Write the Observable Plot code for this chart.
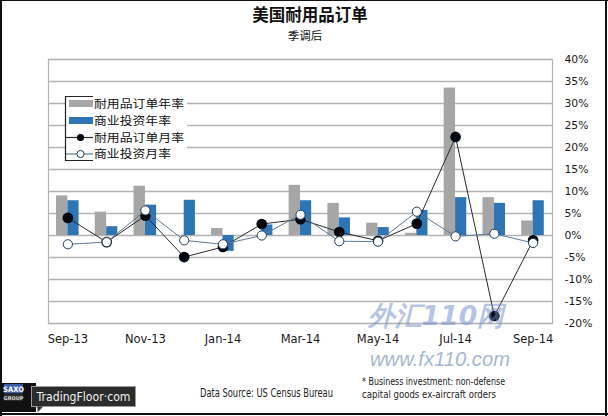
<!DOCTYPE html>
<html>
<head>
<meta charset="utf-8">
<script src="https://cdn.jsdelivr.net/npm/d3@7"></script>
<script src="https://cdn.jsdelivr.net/npm/@observablehq/plot@0.6"></script>
<style>
  html, body { margin: 0; padding: 0; background: #fff; }
  #frame { position: relative; width: 608px; height: 416px; overflow: hidden; background: #fff; font-family: "DejaVu Sans", sans-serif; }
  .abs { position: absolute; }
  #chart { top: 45px; left: 0; }
</style>
</head>
<body>
<div id="frame">
  <svg class="abs" id="back" style="left:0;top:0" width="608" height="416"></svg>
  <div class="abs" id="chart"></div>
  <svg class="abs" id="front" style="left:0;top:0" width="608" height="416"></svg>
  <div class="abs" style="left:0;top:0;width:2px;height:416px;background:#111"></div>
  <div class="abs" style="left:0;top:0;width:608px;height:1px;background:#111"></div>
  <div class="abs" style="left:605px;top:0;width:2px;height:416px;background:#111"></div>
  <div class="abs" style="left:0;top:413px;width:608px;height:2px;background:#111"></div>
</div>
<script>
// ---- data ----
const months = ["Sep-13","Oct-13","Nov-13","Dec-13","Jan-14","Feb-14","Mar-14","Apr-14","May-14","Jun-14","Jul-14","Aug-14","Sep-14"];
const durableYoY  = [9.0, 5.3, 11.2, 0.0, 1.6, 0.0, 11.4, 7.3, 2.8, 0.5, 33.5, 8.6, 3.3];
const businessYoY = [7.9, 2.0, 6.9, 8.0, -3.6, 2.4, 7.9, 4.0, 1.8, 5.7, 8.6, 7.3, 7.9];
const durableMoM  = [4.0, -1.5, 4.5, -4.9, -2.6, 2.6, 3.7, 0.8, -1.2, 2.7, 22.4, -18.3, -1.1];
const businessMoM = [-2.0, -1.5, 5.7, -1.1, -2.0, 0.0, 4.7, -1.3, -1.4, 5.4, -0.2, 0.4, -1.7];
const yTicks = [-20, -15, -10, -5, 0, 5, 10, 15, 20, 25, 30, 35, 40];
const xTickLabels = ["Sep-13","Nov-13","Jan-14","Mar-14","May-14","Jul-14","Sep-14"];
const seriesNames = ["耐用品订单年率","商业投资年率","耐用品订单月率","商业投资月率"];
const titleText = "美国耐用品订单";
const subtitleText = "季调后";
const sourceText = "Data Source:  US Census Bureau";
const noteLines = ["* Business investment: non-defense", "capital goods ex-aircraft orders"];

const rows = months.map((m, i) => ({
  month: m, durYoY: durableYoY[i], bizYoY: businessYoY[i], durMoM: durableMoM[i], bizMoM: businessMoM[i]
}));

const GRAY = "#a6a6a6", BLUE = "#2e75b6";
const ns = "http://www.w3.org/2000/svg";
function mk(parent, tag, attrs, text) {
  const e = document.createElementNS(ns, tag);
  for (const k in attrs) e.setAttribute(k, attrs[k]);
  if (text != null) e.textContent = text;
  parent.appendChild(e);
  return e;
}

// ---- title ----
const bk = document.getElementById("back");
mk(bk, "text", { x: 310, y: 21, "text-anchor": "middle", "font-size": 16.5, "font-weight": 700, "font-family": "Noto Sans CJK SC, sans-serif", fill: "#111" }, titleText);
mk(bk, "text", { x: 305, y: 39.5, "text-anchor": "middle", "font-size": 11.5, "font-family": "Noto Sans CJK SC, sans-serif", fill: "#111" }, subtitleText);

const chart = Plot.plot({
  width: 608,
  height: 310,
  marginLeft: 48,
  marginRight: 56,
  marginTop: 14,
  marginBottom: 32,
  style: { fontFamily: "DejaVu Sans, sans-serif", color: "#1a1a1a", background: "transparent", overflow: "visible" },
  x: { type: "band", domain: months, padding: 0, round: false, label: null },
  y: { domain: [-20, 40], label: null },
  marks: [
    Plot.gridY(yTicks, { stroke: "#b4b4b4", strokeOpacity: 1, strokeWidth: 1.5 }),
    Plot.frame({ stroke: "#b4b4b4", strokeWidth: 1.2 }),
    Plot.barY(rows, { x: "month", y: "durYoY", fill: GRAY, insetLeft: 8, insetRight: 19.4 }),
    Plot.barY(rows, { x: "month", y: "bizYoY", fill: BLUE, insetLeft: 19.4, insetRight: 8.2 }),
    Plot.line(rows, { x: "month", y: "durMoM", stroke: "#2a2a2a", strokeWidth: 1 }),
    Plot.dot(rows, { x: "month", y: "durMoM", r: 4.6, fill: "#05070f", stroke: "#05070f" }),
    Plot.line(rows, { x: "month", y: "bizMoM", stroke: "#5d7a96", strokeWidth: 1 }),
    Plot.dot(rows, { x: "month", y: "bizMoM", r: 4.6, fill: "#fff", stroke: "#1f3d60", strokeWidth: 1 }),
    Plot.axisX({ ticks: xTickLabels, tickSize: 0, tickPadding: 11, fontSize: 11.5, fill: "#1a1a1a", label: null }),
    Plot.axisY({ anchor: "right", ticks: yTicks, tickFormat: d => d + "%", tickSize: 0, tickPadding: 12, fontSize: 10.8, fill: "#1a1a1a", label: null })
  ]
});
document.getElementById("chart").appendChild(chart);

// ---- overlay: watermark, legend, footer ----
const fr = document.getElementById("front");
mk(fr, "text", { x: 368, y: 325, "font-size": 27, "font-weight": 700, "font-style": "italic", "font-family": "DejaVu Sans, sans-serif", fill: "#6f8bcc", "fill-opacity": 0.5, textLength: 136, lengthAdjust: "spacingAndGlyphs" }, "外汇110网");
mk(fr, "text", { x: 370, y: 366, "font-size": 20, "font-style": "italic", "font-family": "Liberation Sans, sans-serif", fill: "#8ea2c8", "fill-opacity": 0.8, textLength: 140, lengthAdjust: "spacingAndGlyphs" }, "www.fx110.com");

mk(fr, "rect", { x: 65, y: 96, width: 122, height: 65, fill: "#fff" });
mk(fr, "path", { d: "M93,96.5 H65.5 V160.5 H93", fill: "none", stroke: "#222", "stroke-width": 1.2 });
const rowY = [103.5, 120.5, 137.5, 154];
seriesNames.forEach((name, i) => {
  const y = rowY[i];
  if (i === 0) mk(fr, "rect", { x: 69, y: y - 3.5, width: 24, height: 7, fill: GRAY });
  if (i === 1) mk(fr, "rect", { x: 69, y: y - 3.5, width: 24, height: 7, fill: BLUE });
  if (i === 2) { mk(fr, "line", { x1: 66, x2: 93, y1: y, y2: y, stroke: "#2a2a2a", "stroke-width": 1.2 }); mk(fr, "circle", { cx: 80.5, cy: y, r: 3.6, fill: "#05070f" }); }
  if (i === 3) { mk(fr, "line", { x1: 66, x2: 93, y1: y, y2: y, stroke: "#5d7a96", "stroke-width": 1.2 }); mk(fr, "circle", { cx: 80.5, cy: y, r: 3.6, fill: "#fff", stroke: "#1f3d60" }); }
  mk(fr, "text", { x: 94, y: y, dy: "0.36em", "font-size": 11.3, "font-family": "Noto Sans CJK SC, sans-serif", fill: "#111", textLength: name.length === 7 ? 90 : 77, lengthAdjust: "spacingAndGlyphs" }, name);
});

// source + note
mk(fr, "text", { x: 200, y: 397, "font-size": 11.5, "font-family": "DejaVu Sans Condensed, DejaVu Sans, sans-serif", fill: "#222", textLength: 133, lengthAdjust: "spacingAndGlyphs" }, sourceText);
mk(fr, "text", { x: 362, y: 385, "font-size": 10.5, "font-family": "DejaVu Sans Condensed, DejaVu Sans, sans-serif", fill: "#222", textLength: 143, lengthAdjust: "spacingAndGlyphs" }, noteLines[0]);
mk(fr, "text", { x: 362, y: 398, "font-size": 10.5, "font-family": "DejaVu Sans Condensed, DejaVu Sans, sans-serif", fill: "#222", textLength: 134, lengthAdjust: "spacingAndGlyphs" }, noteLines[1]);

// logo
mk(fr, "rect", { x: 2, y: 383, width: 34, height: 29, fill: "#111" });
mk(fr, "rect", { x: 4, y: 384, width: 19, height: 9, fill: "#3a5ea8" });
mk(fr, "text", { x: 13.5, y: 391.5, "text-anchor": "middle", "font-size": 7.5, "font-weight": 700, "font-family": "DejaVu Sans Condensed, DejaVu Sans", fill: "#fff" }, "SAXO");
mk(fr, "rect", { x: 4, y: 393, width: 19, height: 8, fill: "#2a2a2a" });
mk(fr, "text", { x: 13.5, y: 399.5, "text-anchor": "middle", "font-size": 5, "font-weight": 700, "font-family": "DejaVu Sans", fill: "#ddd" }, "GROUP");
mk(fr, "rect", { x: 31.5, y: 386.5, width: 104, height: 20, fill: "#2b2b2b", stroke: "#9a9a9a", "stroke-width": 1 });
mk(fr, "path", { d: "M37,406.5 L38,412 L43,406.5", fill: "#2b2b2b", stroke: "#9a9a9a", "stroke-width": 1 });
mk(fr, "text", { x: 83.5, y: 401, "text-anchor": "middle", "font-size": 12, "font-family": "DejaVu Sans, sans-serif", fill: "#f2f2f2", textLength: 94, lengthAdjust: "spacingAndGlyphs" }, "TradingFloor·com");
</script>
</body>
</html>
